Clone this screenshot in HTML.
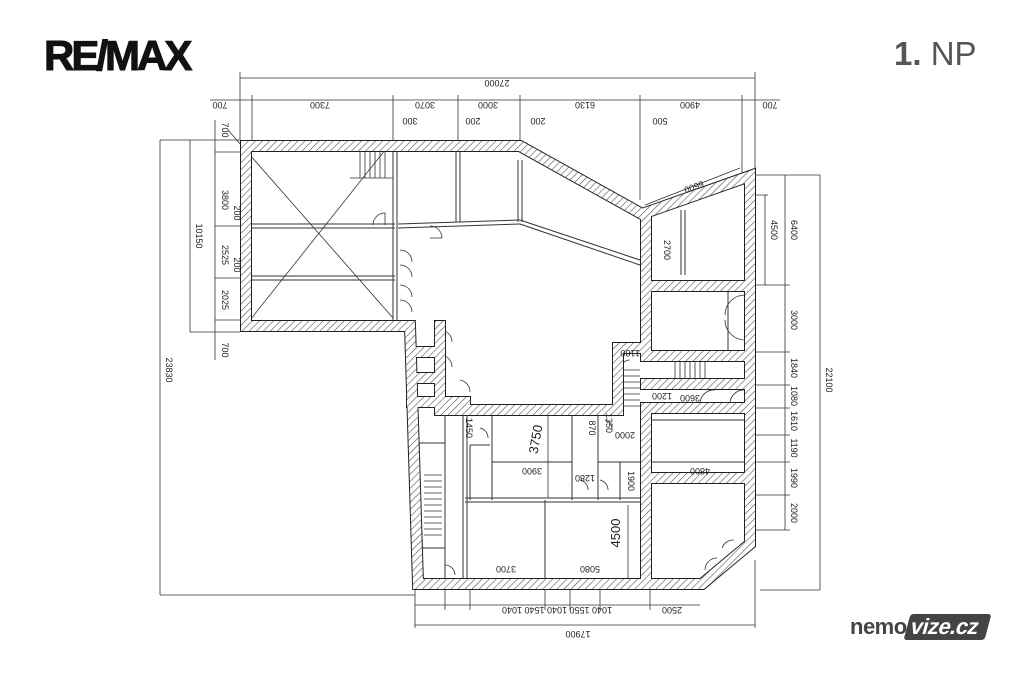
<!DOCTYPE html>
<html><head><meta charset="utf-8"><style>
html,body{margin:0;padding:0;background:#fff}
body{width:1024px;height:682px;position:relative;overflow:hidden;font-family:"Liberation Sans",sans-serif}
.remax{position:absolute;left:44px;top:32px;font-size:42px;font-weight:bold;letter-spacing:-3px;color:#111;transform:scaleX(1.0);transform-origin:left;-webkit-text-stroke:1px #111}
.np{position:absolute;left:894px;top:35px;font-size:33px;color:#555}
.nm{position:absolute;left:850px;top:614px;font-size:22px;font-weight:bold;color:#444;letter-spacing:-0.5px}
.nm span{background:#444;color:#fff;padding:0 10px 0 4px;transform:skewX(-15deg);display:inline-block;border-radius:3px}
svg{position:absolute;left:0;top:0}
</style></head><body>
<div class="remax">RE/MAX</div>
<div class="np"><b>1.</b> NP</div>
<div class="nm">nemo<span>vize.cz</span></div>
<svg width="1024" height="682" viewBox="0 0 1024 682">
<defs>
<pattern id="h" width="5" height="5" patternUnits="userSpaceOnUse" patternTransform="rotate(45)">
<rect width="5" height="5" fill="#fff"/><line x1="0" y1="0" x2="0" y2="5" stroke="#555" stroke-width="1.2"/>
</pattern>
</defs>
<g fill="none" stroke="#333" stroke-width="0.8">
<line x1="240" y1="78" x2="755" y2="78"/>
<line x1="240" y1="72" x2="240" y2="140"/><line x1="755" y1="72" x2="755" y2="175"/>
<line x1="210" y1="100" x2="780" y2="100"/>
<line x1="252" y1="95" x2="252" y2="140"/><line x1="393" y1="95" x2="393" y2="140"/><line x1="458" y1="95" x2="458" y2="140"/><line x1="520" y1="95" x2="520" y2="140"/><line x1="640" y1="95" x2="640" y2="200"/><line x1="742" y1="95" x2="742" y2="175"/>
<line x1="160" y1="140" x2="240" y2="140"/><line x1="160" y1="140" x2="160" y2="595"/><line x1="160" y1="595" x2="415" y2="595"/>
<line x1="190" y1="140" x2="190" y2="332"/><line x1="190" y1="332" x2="240" y2="332"/>
<line x1="215" y1="120" x2="215" y2="360"/>
<line x1="215" y1="152" x2="240" y2="152"/><line x1="215" y1="226" x2="240" y2="226"/><line x1="215" y1="278" x2="240" y2="278"/><line x1="215" y1="320" x2="240" y2="320"/>
<line x1="755" y1="175" x2="820" y2="175"/><line x1="820" y1="175" x2="820" y2="590"/><line x1="760" y1="590" x2="820" y2="590"/>
<line x1="785" y1="175" x2="785" y2="530"/>
<line x1="750" y1="285" x2="790" y2="285"/><line x1="750" y1="352" x2="790" y2="352"/><line x1="750" y1="385" x2="790" y2="385"/><line x1="750" y1="408" x2="790" y2="408"/><line x1="750" y1="435" x2="790" y2="435"/><line x1="750" y1="462" x2="790" y2="462"/><line x1="750" y1="495" x2="790" y2="495"/><line x1="750" y1="530" x2="790" y2="530"/>
<line x1="765" y1="195" x2="765" y2="285"/><line x1="748" y1="195" x2="768" y2="195"/>
<line x1="415" y1="605" x2="700" y2="605"/><line x1="415" y1="625" x2="755" y2="625"/><line x1="415" y1="590" x2="415" y2="628"/><line x1="755" y1="560" x2="755" y2="628"/>
<line x1="445" y1="590" x2="445" y2="610"/><line x1="470" y1="590" x2="470" y2="610"/><line x1="545" y1="590" x2="545" y2="610"/><line x1="570" y1="590" x2="570" y2="610"/><line x1="600" y1="590" x2="600" y2="610"/><line x1="650" y1="590" x2="650" y2="610"/>
<line x1="645" y1="205" x2="740" y2="168"/>
<line x1="228" y1="130" x2="393" y2="318"/><line x1="250" y1="320" x2="393" y2="140"/>
</g>
<g fill="none" stroke="#333" stroke-width="1">
<path d="M520 220 L640 260 M520 224 L640 265"/>
<path d="M398 224 L520 220 M398 228 L520 224"/>
<path d="M252 224 H395 M252 228 H395"/>
<path d="M252 276 H395 M252 280 H395"/>
<path d="M393 152 V320 M397 152 V320"/>
<path d="M456 152 V222 M460 152 V222"/>
<path d="M518 160 V222 M522 160 V222"/>
<path d="M681 210 V275 M685 210 V275"/>
<line x1="650" y1="285" x2="650" y2="355"/>
<line x1="728" y1="290" x2="728" y2="352"/>
<path d="M463 408 V585 M467 408 V585"/>
<line x1="492" y1="412" x2="492" y2="500"/>
<line x1="572" y1="412" x2="572" y2="500"/>
<path d="M465 498 H645 M465 502 H645"/>
<line x1="545" y1="500" x2="545" y2="585"/>
<line x1="492" y1="462" x2="572" y2="462"/>
<line x1="598" y1="412" x2="598" y2="500"/>
<line x1="598" y1="462" x2="645" y2="462"/>
<line x1="620" y1="462" x2="620" y2="500"/>
<line x1="470" y1="445" x2="490" y2="445"/>
<line x1="470" y1="445" x2="470" y2="500"/>
<line x1="650" y1="462" x2="745" y2="462"/>
<line x1="418" y1="443" x2="445" y2="443"/>
<line x1="418" y1="548" x2="445" y2="548"/>
<line x1="445" y1="412" x2="445" y2="580"/>
<line x1="650" y1="420" x2="745" y2="420"/>
</g>
<g fill="none" stroke="#333" stroke-width="0.8">
<path d="M360 152 V178 M365 152 V178 M370 152 V178 M375 152 V178 M380 152 V178 M385 152 V178 M350 178 H393"/>
<path d="M675 360 V380 M680 360 V380 M685 360 V380 M690 360 V380 M695 360 V380 M700 360 V380 M705 360 V380 M670 380 H745"/>
<path d="M622 370 H640 M622 376 H640 M622 382 H640 M622 388 H640 M622 394 H640 M622 400 H640 M622 406 H640"/>
<path d="M424 475 H442 M424 481 H442 M424 487 H442 M424 493 H442 M424 499 H442 M424 505 H442 M424 511 H442 M424 517 H442 M424 523 H442 M424 529 H442 M424 535 H442"/>
<path d="M373 225 A12 12 0 0 1 385 213 V225"/>
<path d="M430 226 A12 12 0 0 1 442 238 H430"/>
<path d="M400 250 A12 12 0 0 1 412 262 M400 265 A12 12 0 0 1 412 277 M400 285 A12 12 0 0 1 412 297 M400 300 A12 12 0 0 1 412 312"/>
<path d="M440 330 A12 12 0 0 1 452 342 M440 355 A12 12 0 0 1 452 367 M460 380 A12 12 0 0 1 470 392"/>
<path d="M745 295 A20 20 0 0 0 725 315 M745 340 A20 20 0 0 1 725 320"/>
<path d="M715 390 A14 14 0 0 0 700 405 M745 390 A14 14 0 0 0 730 405"/>
<path d="M705 570 A12 12 0 0 1 717 558 M722 548 A12 12 0 0 1 734 540"/>
<path d="M445 565 A10 10 0 0 1 455 575 M580 480 A10 10 0 0 1 588 490 M600 480 A10 10 0 0 1 608 490 M630 360 A10 10 0 0 0 620 370 M605 420 A10 10 0 0 1 612 430 M480 428 A10 10 0 0 1 488 438"/>
<line x1="548" y1="415" x2="548" y2="498"/><line x1="628" y1="505" x2="628" y2="580"/>
</g>
<g fill="none" stroke-linejoin="miter" stroke-linecap="square">
<path id="w" d="M246 146 H520 L642 214 L750 176 V544 L702 584 H418 L410 326 H246 Z M440 326 V410 H618 V348 H646 V214 M646 286 H746 M646 356 H746 M646 384 H746 M646 408 H746 M646 478 H746 M646 408 V584 M412 352 H440 M412 378 H440 M412 402 H465 V410"/>
<use href="#w" stroke="#222" stroke-width="12"/>
<use href="#w" stroke="url(#h)" stroke-width="10"/>
</g>
<g font-family="Liberation Sans,sans-serif" font-size="9" fill="#222" text-anchor="middle">
<g transform="rotate(180 497 80)"><text x="497" y="80">27000</text></g>
<g transform="rotate(180 320 102)"><text x="320" y="102">7300</text></g>
<g transform="rotate(180 220 102)"><text x="220" y="102">700</text></g>
<g transform="rotate(180 425 102)"><text x="425" y="102">3070</text></g>
<g transform="rotate(180 488 102)"><text x="488" y="102">3000</text></g>
<g transform="rotate(180 585 102)"><text x="585" y="102">6130</text></g>
<g transform="rotate(180 690 102)"><text x="690" y="102">4900</text></g>
<g transform="rotate(180 770 102)"><text x="770" y="102">700</text></g>
<g transform="rotate(180 410 118)"><text x="410" y="118">300</text></g>
<g transform="rotate(180 473 118)"><text x="473" y="118">200</text></g>
<g transform="rotate(180 538 118)"><text x="538" y="118">200</text></g>
<g transform="rotate(180 660 118)"><text x="660" y="118">500</text></g>
<g transform="rotate(160 693 184)"><text x="693" y="184">6600</text></g>
<g transform="rotate(180 578 631)"><text x="578" y="631">17900</text></g>
<g transform="rotate(180 557 607)"><text x="557" y="607">1040 1550 1040 1540 1040</text></g>
<g transform="rotate(180 672 607)"><text x="672" y="607">2500</text></g>
<g transform="rotate(180 506 566)"><text x="506" y="566">3700</text></g>
<g transform="rotate(180 590 566)"><text x="590" y="566">5080</text></g>
<g transform="rotate(180 532 468)"><text x="532" y="468">3900</text></g>
<g transform="rotate(180 700 468)"><text x="700" y="468">4800</text></g>
<g transform="rotate(180 690 395)"><text x="690" y="395">3600</text></g>
<g transform="rotate(180 662 393)"><text x="662" y="393">1200</text></g>
<g transform="rotate(180 630 350)"><text x="630" y="350">1180</text></g>
<g transform="rotate(180 625 432)"><text x="625" y="432">2000</text></g>
<g transform="rotate(180 585 475)"><text x="585" y="475">1280</text></g>
<g transform="rotate(90 222 200)"><text x="222" y="200">3800</text></g>
<g transform="rotate(90 222 255)"><text x="222" y="255">2525</text></g>
<g transform="rotate(90 222 300)"><text x="222" y="300">2025</text></g>
<g transform="rotate(90 222 130)"><text x="222" y="130">700</text></g>
<g transform="rotate(90 222 350)"><text x="222" y="350">700</text></g>
<g transform="rotate(90 234 213)"><text x="234" y="213">200</text></g>
<g transform="rotate(90 234 265)"><text x="234" y="265">200</text></g>
<g transform="rotate(90 196 236)"><text x="196" y="236">10150</text></g>
<g transform="rotate(90 166 370)"><text x="166" y="370">23830</text></g>
<g transform="rotate(90 826 380)"><text x="826" y="380">22100</text></g>
<g transform="rotate(90 791 230)"><text x="791" y="230">6400</text></g>
<g transform="rotate(90 771 230)"><text x="771" y="230">4500</text></g>
<g transform="rotate(90 791 320)"><text x="791" y="320">3000</text></g>
<g transform="rotate(90 791 368)"><text x="791" y="368">1840</text></g>
<g transform="rotate(90 791 396)"><text x="791" y="396">1080</text></g>
<g transform="rotate(90 791 421)"><text x="791" y="421">1610</text></g>
<g transform="rotate(90 791 448)"><text x="791" y="448">1190</text></g>
<g transform="rotate(90 791 478)"><text x="791" y="478">1990</text></g>
<g transform="rotate(90 791 513)"><text x="791" y="513">2000</text></g>
<g transform="rotate(90 664 250)"><text x="664" y="250">2700</text></g>
<g transform="rotate(90 466 428)"><text x="466" y="428">1450</text></g>
<g transform="rotate(90 589 428)"><text x="589" y="428">870</text></g>
<g transform="rotate(90 606 423)"><text x="606" y="423">1350</text></g>
<g transform="rotate(90 628 481)"><text x="628" y="481">1900</text></g>
<g transform="rotate(-80 540 440)"><text x="540" y="440" font-size="13">3750</text></g>
<g transform="rotate(-90 620 533)"><text x="620" y="533" font-size="13">4500</text></g>
</g>
</svg>
</body></html>
